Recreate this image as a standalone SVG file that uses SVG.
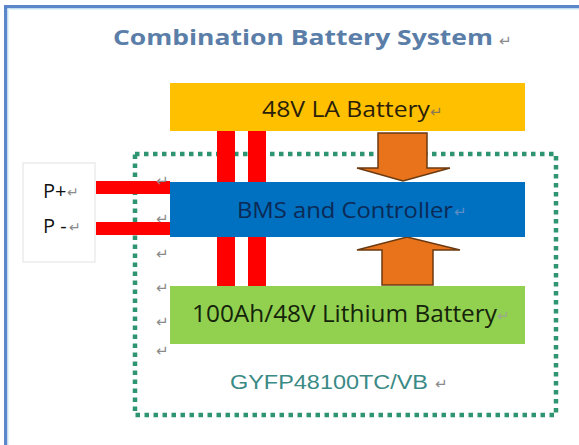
<svg xmlns="http://www.w3.org/2000/svg" width="579" height="445" viewBox="0 0 579 445">
<style>
.lbl{font-family:"Open Sans","Liberation Sans",sans-serif;}
.ret{font-family:"DejaVu Sans",sans-serif;fill:#8a8a8a;font-weight:normal;}
.bar{fill:#FF0000;}
.arr{fill:#E8731A;stroke:#6b3a10;stroke-width:1.5;stroke-linejoin:miter;}
</style>
<rect x="0" y="0" width="579" height="445" fill="#ffffff"/>
<g id="frame">
<rect x="4" y="5" width="575" height="3.5" fill="#5b86cc"/>
<rect x="4" y="5" width="3.5" height="440" fill="#5b86cc"/>
<rect x="7.5" y="8.5" width="571.5" height="1.5" fill="#dff4f6"/>
<rect x="7.5" y="8.5" width="1.5" height="436.5" fill="#dff4f6"/>
</g>
<g id="title">
<text x="113" y="45" class="lbl" font-size="21" font-weight="bold" fill="#5a7ea8" textLength="380" lengthAdjust="spacingAndGlyphs">Combination Battery System</text>
<text x="499" y="46" class="ret" font-size="15">↵</text>
</g>
<g id="enclosure">
<rect x="135" y="154" width="421" height="261" fill="none" stroke="#2f9470" stroke-width="4.5" stroke-dasharray="4.5 4.5"/>
</g>
<g id="connectors">
<rect class="bar" x="217" y="131" width="18" height="155"/>
<rect class="bar" x="248" y="131" width="18" height="155"/>
<polygon class="arr" points="378,133 427,133 427,168 450,168 403,181 357,168 378,168"/>
<polygon class="arr" points="407,237 460,250 433,250 433,285 382,285 382,250 357,250"/>
</g>
<g id="la-battery">
<rect x="170" y="83" width="355" height="48" fill="#FFC000"/>
<text x="262" y="117" class="lbl" font-size="21" fill="#2a1e08" textLength="168" lengthAdjust="spacingAndGlyphs">48V LA Battery</text>
<text x="430" y="117" class="ret" font-size="15" style="fill:#8a7a50">↵</text>
</g>
<g id="bms">
<rect x="170" y="182" width="355" height="55" fill="#0070C0"/>
<text x="237" y="218" class="lbl" font-size="22" fill="#0c2a55" textLength="216" lengthAdjust="spacingAndGlyphs">BMS and Controller</text>
<text x="454" y="217" class="ret" font-size="15" style="fill:#5d8fc4">↵</text>
</g>
<g id="lithium">
<rect x="170" y="286" width="355" height="58" fill="#92D050"/>
<text x="192" y="322" class="lbl" font-size="23" fill="#14240a" textLength="305" lengthAdjust="spacingAndGlyphs">100Ah/48V Lithium Battery</text>
<text x="497" y="321" class="ret" font-size="15" style="fill:#9aa890">↵</text>
</g>
<g id="p-terminal">
<rect x="23" y="163" width="72" height="99" fill="#ffffff" stroke="#e2e2e2" stroke-width="1"/>
<text x="43" y="198" class="lbl" font-size="20" fill="#111">P+</text>
<text x="67" y="197" class="ret" font-size="14">↵</text>
<text x="43" y="233" class="lbl" font-size="20" fill="#111">P -</text>
<text x="69" y="232" class="ret" font-size="14">↵</text>
<rect class="bar" x="96" y="181" width="74" height="13"/>
<rect class="bar" x="96" y="222" width="74" height="13"/>
</g>
<g id="marks">
<text x="156" y="186" class="ret" font-size="15">↵</text>
<text x="156" y="224" class="ret" font-size="15">↵</text>
<text x="156" y="259" class="ret" font-size="15">↵</text>
<text x="156" y="293" class="ret" font-size="15">↵</text>
<text x="156" y="327" class="ret" font-size="15">↵</text>
<text x="156" y="356" class="ret" font-size="15">↵</text>
</g>
<g id="model-label">
<text x="230" y="389" font-family="'Liberation Sans',Arial,sans-serif" font-size="20" fill="#3a8a86" textLength="198" lengthAdjust="spacingAndGlyphs">GYFP48100TC/VB</text>
<text x="435" y="389" class="ret" font-size="15">↵</text>
</g>
</svg>
